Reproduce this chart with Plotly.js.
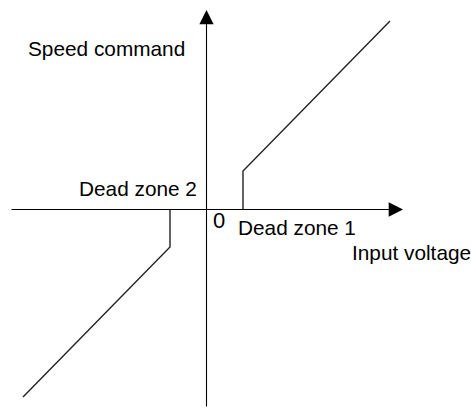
<!DOCTYPE html>
<html>
<head>
<meta charset="utf-8">
<script src="https://cdn.plot.ly/plotly-3.0.1.min.js"></script>
<style>
  body { margin: 0; padding: 0; background: #fff; }
  #plotArea { width: 471px; height: 409px; }
</style>
</head>
<body>
<div id="plotArea"></div>
<script>
// input voltage vs speed command, both dead zones
var voltLow = [-183.5, -36.5, -36.5];
var speedLow = [-187.5, -37.5, 0];
var voltHigh = [36.5, 36.5, 183.5];
var speedHigh = [0, 38.5, 188.5];

// axis extents (tail -> tip)
var xAxisEnds = [-196.5, 196.5];
var yAxisEnds = [-198.5, 199.5];

var labels = ["Speed command", "Dead zone 2", "0", "Dead zone 1", "Input voltage"];
var labelX = [-100, -68.5, 12.5, 90.5, 205];
var labelY = [161, 21, -11, -18, -43];

var lineStyle = {color: "#222", width: 1.4};

var trace1 = {
    x: voltLow,
    y: speedLow,
    mode: "lines",
    type: "scatter",
    line: lineStyle,
    hoverinfo: "skip"
};

var trace2 = {
    x: voltHigh,
    y: speedHigh,
    mode: "lines",
    type: "scatter",
    line: lineStyle,
    hoverinfo: "skip"
};

var data = [trace1, trace2];

var annotations = labels.map(function(txt, i) {
    return {
        x: labelX[i], y: labelY[i], xref: "x", yref: "y",
        text: txt, showarrow: false,
        xanchor: "center", yanchor: "middle",
        font: {family: "Liberation Sans, Arial, sans-serif", size: (txt === "0" ? 22 : 20.8), color: "#000"}
    };
});

// axis arrows
annotations.push({
    x: xAxisEnds[1], y: 0, ax: xAxisEnds[0], ay: 0,
    xref: "x", yref: "y", axref: "x", ayref: "y",
    text: "", showarrow: true, arrowhead: 2, arrowsize: 2.6, arrowwidth: 1.1, arrowcolor: "#000"
});
annotations.push({
    x: 0, y: yAxisEnds[1], ax: 0, ay: yAxisEnds[0],
    xref: "x", yref: "y", axref: "x", ayref: "y",
    text: "", showarrow: true, arrowhead: 2, arrowsize: 2.6, arrowwidth: 1.1, arrowcolor: "#000"
});

var layout = {
    width: 471,
    height: 409,
    margin: {l: 0, r: 0, t: 0, b: 0},
    showlegend: false,
    paper_bgcolor: "#fff",
    plot_bgcolor: "#fff",
    xaxis: {range: [-206.5, 264.5], visible: false, fixedrange: true},
    yaxis: {range: [-199.5, 209.5], visible: false, fixedrange: true},
    annotations: annotations
};

Plotly.newPlot("plotArea", data, layout, {staticPlot: true, displayModeBar: false});
</script>
</body>
</html>
